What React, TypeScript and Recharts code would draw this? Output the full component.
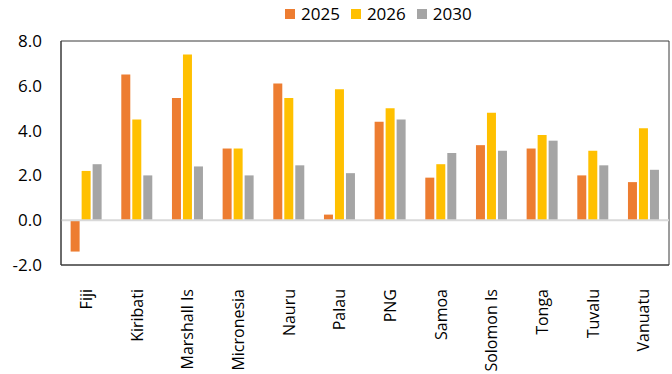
import React from 'react';
import { BarChart, Bar, XAxis, YAxis, ReferenceLine, ReferenceArea } from 'recharts';

const countries = ['Fiji', 'Kiribati', 'Marshall Is', 'Micronesia', 'Nauru', 'Palau', 'PNG', 'Samoa', 'Solomon Is', 'Tonga', 'Tuvalu', 'Vanuatu'];
const v2025 = [-1.4, 6.5, 5.45, 3.2, 6.1, 0.25, 4.4, 1.9, 3.35, 3.2, 2.0, 1.7];
const v2026 = [2.2, 4.5, 7.4, 3.2, 5.45, 5.85, 5.0, 2.5, 4.8, 3.8, 3.1, 4.1];
const v2030 = [2.5, 2.0, 2.4, 2.0, 2.45, 2.1, 4.5, 3.0, 3.1, 3.55, 2.45, 2.25];
const yTicks = [-2, 0, 2, 4, 6, 8];
const seriesNames = ['2025', '2026', '2030'];
const seriesColors = ['#ED7D31', '#FFC000', '#A5A5A5'];
const seriesKeys = ['y2025', 'y2026', 'y2030'];

const data = countries.map((c, i) => ({ name: c, y2025: v2025[i], y2026: v2026[i], y2030: v2030[i] }));

const FONT = '"Open Sans", "Noto Sans", sans-serif';

const XTick = (props: any) => {
  const { x, y, payload } = props;
  return (
    <text
      x={0}
      y={0}
      transform={`translate(${x},${y + 16}) rotate(-90)`}
      textAnchor="end"
      dy="0.35em"
      fill="#000"
      fontSize={16}
      fontFamily={FONT}
    >
      {payload.value}
    </text>
  );
};

export default function App() {
  return (
    <div style={{ position: 'absolute', left: 0, top: 0, width: 672, height: 374, background: '#fff' }}>
      <div
        style={{
          position: 'absolute',
          left: 285,
          top: 2,
          display: 'flex',
          alignItems: 'center',
          fontFamily: FONT,
          fontSize: 17,
          color: '#000',
          zIndex: 2,
        }}
      >
        {seriesNames.map((n, i) => (
          <div key={n} style={{ display: 'flex', alignItems: 'center', marginRight: 11 }}>
            <div style={{ width: 10, height: 10, background: seriesColors[i], marginRight: 6 }} />
            <span>{n}</span>
          </div>
        ))}
      </div>
      <BarChart
        width={672}
        height={374}
        data={data}
        margin={{ top: 41, right: 3, left: 0, bottom: 0 }}
        barCategoryGap="19%"
        barGap={2}
      >
        <XAxis
          dataKey="name"
          height={109}
          interval={0}
          tick={<XTick />}
          tickLine={false}
          axisLine={{ stroke: '#3a3a3a' }}
        />
        <YAxis
          width={61}
          domain={[-2, 8]}
          ticks={yTicks}
          interval={0}
          tickFormatter={(v: number) => v.toFixed(1)}
          tickLine={false}
          tickMargin={13}
          axisLine={{ stroke: '#3a3a3a' }}
          tick={{ fill: '#000', fontSize: 17, fontFamily: FONT }}
        />
        <ReferenceLine y={0} stroke="#d9d9d9" strokeWidth={2} />
        {seriesKeys.map((k, i) => (
          <Bar key={k} dataKey={k} name={seriesNames[i]} fill={seriesColors[i]} isAnimationActive={false} />
        ))}
        <ReferenceArea y1={-2} y2={8} fill="none" fillOpacity={0} stroke="#3a3a3a" strokeWidth={1} ifOverflow="visible" />
      </BarChart>
    </div>
  );
}
